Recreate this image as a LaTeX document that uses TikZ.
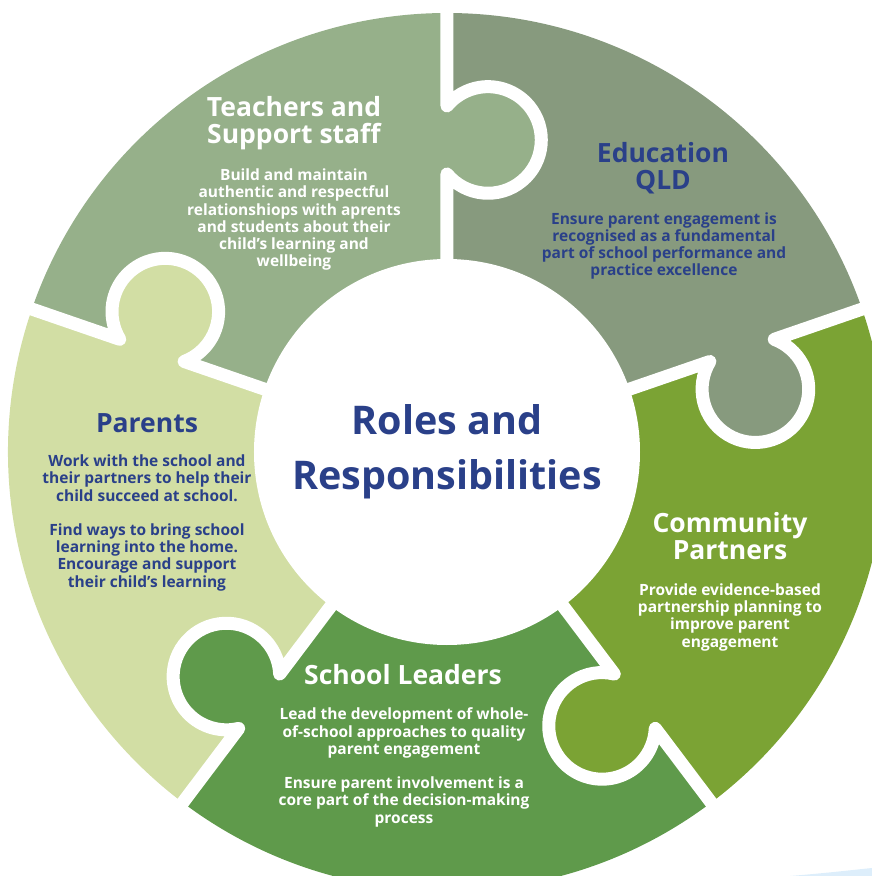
\documentclass[tikz,border=0pt]{standalone}
\usepackage{fontspec}
\setmainfont{Open Sans}

\definecolor{teachgreen}{HTML}{96B08A}
\definecolor{edugreen}{HTML}{879A7E}
\definecolor{commgreen}{HTML}{7BA334}
\definecolor{leadgreen}{HTML}{5F9A4B}
\definecolor{parentgreen}{HTML}{D2DEA4}
\definecolor{rolenavy}{HTML}{2A4089}
\definecolor{skyhaze}{HTML}{DDEEFB}

\tikzset{
  seam/.style={white, line width=13pt, line join=round},
  head/.style={font=\bfseries\fontsize{26.5}{26.6}\selectfont, align=center, anchor=base, inner sep=0pt},
  blurb/.style={font=\bfseries\fontsize{15.5}{17.2}\selectfont, align=center, anchor=base, inner sep=0pt},
}

\begin{document}
\begin{tikzpicture}[x=1pt, y=1pt, line join=round]

    % origin at the centre of the ring, outer radius 439, inner disc 193
    \useasboundingbox (-447,-424) rectangle (425,452);

    % five wedges, seams at 90, 19, -53, -127 and 161 degrees
    \fill[edugreen]    (0,0) -- (19:439)   arc[start angle=19,   end angle=90,  radius=439] -- cycle;
    \fill[teachgreen]  (0,0) -- (90:439)   arc[start angle=90,   end angle=161, radius=439] -- cycle;
    \fill[parentgreen] (0,0) -- (161:439)  arc[start angle=161,  end angle=233, radius=439] -- cycle;
    \fill[leadgreen]   (0,0) -- (-127:439) arc[start angle=-127, end angle=-53, radius=439] -- cycle;
    \fill[commgreen]   (0,0) -- (-53:439)  arc[start angle=-53,  end angle=19,  radius=439] -- cycle;

    % puzzle knobs, each one pushed into the next wedge clockwise
    \foreach \a/\col in {90/teachgreen, 19/edugreen, -53/commgreen, -127/leadgreen, 161/parentgreen}
        \fill[\col] (\a:312) ++(\a-90:41) circle (53.3);

    % white seams between the pieces
    \foreach \a [evaluate=\a as \sa using \a+129.7, evaluate=\a as \ea using \a+410.3] in {90,19,-53,-127,161}
        \draw[seam] (\a:150) -- (\a:278) arc[start angle=\sa, end angle=\ea, radius=53.3] -- (\a:470);

    % centre disc
    \fill[white] (0,0) circle (193);

    % faint blue edge in the corner
    \fill[skyhaze] (343,-424) .. controls (380,-421) and (405,-418) .. (425,-416) -- (425,-424) -- cycle;

    % text nodes sit on the baseline of their last line
    \node[align=center, anchor=base, inner sep=0pt, text=rolenavy,
          font=\bfseries\fontsize{39.5}{55.5}\selectfont] (title) at (0,-37.5) {Roles and\\Responsibilities};

    % teachers
    \node[head, text=white] (teach) at (-153,308.7) {Teachers and\\Support staff};
    \node[blurb, text=white] (teachtxt) at (-153,185.3) {Build and maintain\\authentic and respectful\\relationshiops with aprents\\and students about their\\child’s learning and\\wellbeing};

    % education
    \node[head, text=rolenavy] (edu) at (216,262.7) {Education\\QLD};
    \node[blurb, text=rolenavy] (edutxt) at (217,176.3) {Ensure parent engagement is\\recognised as a fundamental\\part of school performance and\\practice excellence};

    % parents
    \node[head, text=rolenavy] (parent) at (-300,19.3) {Parents};
    \node[blurb, text=rolenavy] (parenttxt) at (-300,-135) {Work with the school and\\their partners to help their\\child succeed at school.\\[17.2pt]Find ways to bring school\\learning into the home.\\Encourage and support\\their child’s learning};

    % community partners
    \node[head, text=white] (comm) at (283,-107) {Community\\Partners};
    \node[blurb, text=white] (commtxt) at (283,-195) {Provide evidence-based\\partnership planning to\\improve parent\\engagement};

    % school leaders
    \node[head, text=white] (lead) at (-44,-232) {School Leaders};
    \node[blurb, text=white] (leadtxt) at (-43,-371) {Lead the development of whole-\\of-school approaches to quality\\parent engagement\\[17.2pt]Ensure parent involvement is a\\core part of the decision-making\\process};

\end{tikzpicture}
\end{document}
